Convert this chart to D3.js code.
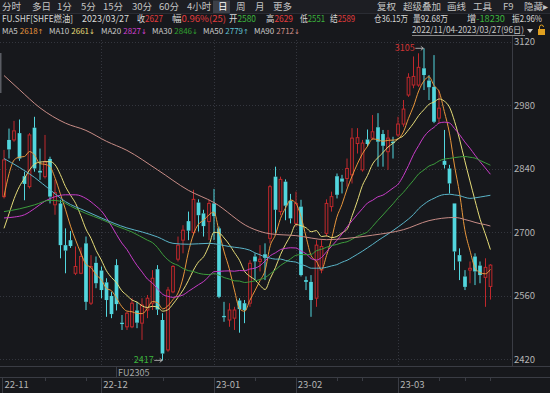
<!DOCTYPE html>
<html>
<head>
<meta charset="utf-8">
<script src="https://cdn.jsdelivr.net/npm/d3@7"></script>
<style>
  html, body { margin: 0; padding: 0; background: #17181c; }
  svg { display: block; }
  text { font-family: "Noto Sans CJK SC", "Noto Sans", sans-serif; }
</style>
</head>
<body>
<svg id="chart" width="550" height="393"></svg>
<script>
// trading days shown (2022/11/04 - 2023/03/27, 96 days)
var dates = ["11/04","11/07","11/08","11/09","11/10","11/11","11/14","11/15","11/16","11/17","11/18","11/21","11/22","11/23","11/24","11/25","11/28","11/29","11/30",
  "12/01","12/02","12/05","12/06","12/07","12/08","12/09","12/12","12/13","12/14","12/15","12/16","12/19","12/20","12/21","12/22","12/23","12/26","12/27","12/28","12/29","12/30",
  "01/03","01/04","01/05","01/06","01/09","01/10","01/11","01/12","01/13","01/16","01/17","01/18","01/19","01/20","01/30","01/31",
  "02/01","02/02","02/03","02/06","02/07","02/08","02/09","02/10","02/13","02/14","02/15","02/16","02/17","02/20","02/21","02/22","02/23","02/24","02/27","02/28",
  "03/01","03/02","03/03","03/06","03/07","03/08","03/09","03/10","03/13","03/14","03/15","03/16","03/17","03/20","03/21","03/22","03/23","03/24","03/27"];

var opens  = [2778,2903,2903,2918,2823,2800,2930,2835,2822,2861,2760,2763,2671,2682,2609,2609,2675,2543,2632,2615,
  2589,2559,2627,2500,2491,2491,2527,2499,2528,2543,2618,2506,2440,2568,2640,2682,2724,2699,2765,2741,
  2723,2763,2708,2515,2506,2510,2549,2543,2543,2646,2635,2651,2686,2822,2745,2811,2769,2719,2756,2594,
  2590,2554,2616,2697,2756,2823,2818,2818,2826,2895,2837,2904,2907,2931,2916,2877,2899,2914,2938,3002,
  3024,3024,3061,3034,3020,2951,2857,2840,2763,2649,2602,2616,2646,2626,2600,2580];
var highs  = [2881,2928,2945,2948,2833,2918,2954,2884,2914,2866,2815,2771,2708,2702,2668,2666,2690,2649,2646,2624,
  2598,2568,2640,2517,2524,2554,2546,2554,2561,2616,2627,2521,2579,2627,2690,2715,2745,2793,2772,2749,
  2771,2795,2712,2546,2543,2535,2554,2550,2638,2653,2671,2675,2804,2844,2822,2816,2784,2789,2771,2602,
  2605,2682,2682,2772,2789,2829,2826,2862,2929,2929,2903,2926,2958,2962,2925,2925,2910,2954,2991,3050,
  3087,3094,3105,3046,3090,3013,2925,2848,2763,2664,2616,2635,2653,2635,2642,2629];
var lows   = [2774,2862,2899,2857,2770,2796,2833,2815,2818,2763,2738,2642,2609,2665,2605,2607,2528,2539,2576,2554,
  2513,2510,2527,2484,2484,2488,2488,2462,2510,2528,2517,2417,2436,2565,2635,2653,2682,2693,2701,2690,
  2682,2682,2554,2502,2491,2484,2478,2499,2535,2594,2613,2594,2675,2697,2737,2726,2719,2712,2602,2572,
  2513,2535,2609,2690,2745,2774,2785,2800,2807,2873,2833,2888,2903,2844,2844,2837,2862,2910,2932,2998,
  3017,3020,3013,2991,2940,2940,2840,2785,2616,2594,2572,2587,2583,2587,2535,2551];
var closes = [2859,2882,2923,2862,2806,2914,2840,2831,2855,2778,2787,2671,2659,2669,2624,2646,2546,2624,2587,2572,
  2550,2519,2541,2497,2521,2543,2500,2539,2554,2598,2529,2432,2572,2624,2671,2704,2703,2772,2737,2713,
  2763,2735,2557,2512,2528,2528,2530,2528,2631,2635,2640,2643,2800,2749,2816,2758,2730,2763,2605,2590,
  2550,2671,2668,2763,2778,2782,2811,2840,2907,2908,2896,2894,2921,2899,2890,2907,2896,2938,2971,3041,
  3043,3063,3046,3019,2943,2973,2848,2807,2657,2635,2579,2620,2613,2605,2622,2627];

var maPeriods = [5, 10, 20, 30, 50, 90];
var ma5Head  = [[0,2778],[1,2829],[2,2859],[3,2865]];
var ma10Head = [[0,2708],[1,2741],[2,2774],[3,2800],[4,2818],[5,2837],[6,2850],[7,2854],[8,2855]];
var ma20Head = [[0,2731],[2,2733],[4,2738],[6,2752],[8,2768],[10,2778],[12,2782],[14,2782],[16,2774],[18,2757]];
var ma30Head = [[0,2745],[3,2751],[6,2760],[9,2770],[11,2768],[13,2757],[16,2741],[19,2728],[22,2713],[25,2700],[28,2682]];
var ma50Head = [[0,2862],[6,2820],[9,2793],[12,2767],[16,2746],[19,2731],[24,2709],[27,2700],[30,2689],[33,2675],[36,2673],[40,2675],[44,2668],[48,2660]];
var ma90Head = [[0,3045],[3,3014],[7,2974],[12,2940],[16,2924],[20,2900],[24,2880],[30,2837],[36,2792],[41,2765],[48,2710],[52,2696],[57,2692],[63,2683],[67,2686],[72,2693],[78,2705],[83,2725],[88,2732]];
var maHeads = [ma5Head, ma10Head, ma20Head, ma30Head, ma50Head, ma90Head];
var maNames = ["MA5","MA10","MA20","MA30","MA50","MA90"];
var maLast = ["2618","2661","2827","2846","2779","2712"];
var maArrow = ["↑","↓","↓","↓","↑","↓"];

var priceTicks = [3120, 2980, 2840, 2700, 2560, 2420];
var monthLabels = ["22-11","22-12","23-01","23-02","23-03"];
var monthStart = ["11/04","12/01","01/03","02/01","03/01"];
var minorTickDates = ["11/16","11/28","12/19","01/13","02/13","02/20","03/13","03/20","03/27"];

var toolbarLeft = ["分时","多日","1分","5分","15分","30分","60分","4小时","日","周","月","更多"];
var toolbarRight = ["复权","超级叠加","画线","工具","F9","隐藏▸"];
var quoteLabels = ["收","幅","开","高","低","结","仓","量","增","振"];
var quoteValues = ["2627","0.96%(25)","2580","2629","2551","2589","36.15万","92.68万","-18230","2.96%"];
var quoteSign   = [1, 1, -1, 1, -1, 1, 0, 0, -1, 0];

// colours / layout
var bg = "#17181c";
var upColor = "#c0282c", downColor = "#52d6de";
var maColors = ["#e8963c", "#e6dc78", "#c83cc8", "#3c9c3c", "#5ab4c8", "#c88c86"];
var maTextColors = ["#e8963c", "#e6dc78", "#d040d0", "#30a030", "#60c0d0", "#d09088"];
var signColor = function(s) { return s > 0 ? "#e03c3c" : (s < 0 ? "#3cb43c" : "#d8d8d8"); };
var plotRight = 512, plotTop = 36, plotBottom = 366;

var svg = d3.select("#chart");
svg.append("rect").attr("width", 550).attr("height", 393).attr("fill", bg);

var x = d3.scaleBand().domain(dates).range([1.44, 492.96]);
function xc(d) { return x(d) + x.bandwidth() / 2; }
var y = d3.scaleLinear().domain([2420, 3120]).range([359, 41.5]);

// ---- top toolbar ----
svg.append("rect").attr("width", 550).attr("height", 13).attr("fill", "#1d1e23");
svg.append("line").attr("x1", 0).attr("x2", 550).attr("y1", 13.5).attr("y2", 13.5).attr("stroke", "#2a2c33");
var toolLeftX = [2, 32, 57, 81, 103, 132, 159, 187, 218, 236, 255, 273];
var toolRightX = [377, 403, 447, 473, 503, 524];
svg.append("rect").attr("x", 213).attr("y", 0.5).attr("width", 17).attr("height", 12.5).attr("fill", "#3c3f48");
svg.selectAll(".tool").data(toolbarLeft.concat(toolbarRight)).join("text")
   .attr("x", function(d, i) { return i < toolbarLeft.length ? toolLeftX[i] : toolRightX[i - toolbarLeft.length]; })
   .attr("y", 10)
   .attr("font-size", 9.5)
   .attr("fill", function(d) { return d == "日" ? "#ffffff" : "#c4c4c4"; })
   .text(function(d) { return d; });

// ---- quote line ----
var row2 = svg.append("g").attr("font-size", 9).attr("fill", "#d8d8d8");
row2.append("text").attr("x", 2).attr("y", 21.5).attr("textLength", 71).attr("lengthAdjust", "spacingAndGlyphs")
    .text("FU.SHF[SHFE燃油]");
row2.append("text").attr("x", 82).attr("y", 21.5).attr("textLength", 47).attr("lengthAdjust", "spacingAndGlyphs")
    .text("2023/03/27");
var quoteX = [137, 172, 229, 266, 300, 330, 374, 413, 467, 512];
var quoteW = [26, 54, 27, 27, 25, 25, 34, 35, 38, 30];
quoteLabels.forEach(function(lab, i) {
  var t = row2.append("text").attr("x", quoteX[i]).attr("y", 21.5)
              .attr("textLength", quoteW[i]).attr("lengthAdjust", "spacingAndGlyphs");
  t.append("tspan").text(lab);
  t.append("tspan").attr("fill", signColor(quoteSign[i])).text(quoteValues[i]);
});

// ---- MA legend line ----
var maX = [2, 49, 101, 152, 203, 254];
maNames.forEach(function(name, i) {
  var lab = svg.append("text").attr("x", maX[i]).attr("y", 33.5).attr("font-size", 8).attr("fill", "#c8c8c8").text(name);
  var lw = lab.node().getComputedTextLength();
  var t = svg.append("text").attr("x", maX[i] + lw + 2).attr("y", 33.5).attr("font-size", 8).attr("fill", maTextColors[i]);
  t.append("tspan").text(maLast[i]);
  t.append("tspan").attr("font-family", "DejaVu Sans").attr("font-size", 7).text(maArrow[i]);
});
svg.append("text").attr("x", 412).attr("y", 33).attr("font-size", 8.5)
   .attr("textLength", 112).attr("lengthAdjust", "spacingAndGlyphs")
   .attr("fill", "#c8c8c8").text("2022/11/04-2023/03/27(" + dates.length + "日)");
svg.append("line").attr("x1", 412).attr("x2", 525).attr("y1", 35.5).attr("y2", 35.5).attr("stroke", "#a8a8a8").attr("stroke-width", 0.8);
svg.append("path").attr("d", "M527,29 h6 l-3,4 z").attr("fill", "#c8c8c8");
svg.append("rect").attr("x", 538).attr("y", 29).attr("width", 7).attr("height", 6).attr("fill", "#e0a020");
svg.append("path").attr("d", "M539.5,29 v-2 a2,2 0 0 1 4,0").attr("fill", "none").attr("stroke", "#e0a020");

// ---- grid ----
var grid = svg.append("g").attr("stroke", "#34363e").attr("stroke-dasharray", "1,2").attr("stroke-width", 1);
grid.selectAll(".hg").data(priceTicks).join("line")
    .attr("x1", 0).attr("x2", plotRight)
    .attr("y1", function(d) { return Math.round(y(d)) + 0.5; })
    .attr("y2", function(d) { return Math.round(y(d)) + 0.5; });
grid.selectAll(".vg").data(monthStart.slice(1)).join("line")
    .attr("x1", function(d) { return Math.round(xc(d)) + 0.5; })
    .attr("x2", function(d) { return Math.round(xc(d)) + 0.5; })
    .attr("y1", plotTop + 4).attr("y2", plotBottom);

// left edge scroll mark
svg.append("rect").attr("x", 0).attr("y", 53).attr("width", 1.5).attr("height", 40).attr("fill", "#5a5c63");

// ---- price axis ----
svg.append("line").attr("x1", plotRight + 0.5).attr("x2", plotRight + 0.5).attr("y1", plotTop).attr("y2", plotBottom)
   .attr("stroke", "#3a3c44");
var yAxis = svg.append("g").attr("transform", "translate(" + plotRight + ",0)")
   .call(d3.axisRight(y).tickValues(priceTicks).tickFormat(d3.format("d")).tickSize(0).tickPadding(2));
yAxis.select(".domain").remove();
yAxis.selectAll("text").attr("fill", "#b4b4b4").attr("font-size", 9.5)
     .attr("font-family", "\"Noto Sans CJK SC\", sans-serif");

// ---- plot area ----
svg.append("clipPath").attr("id", "plotClip").append("rect")
   .attr("x", 0).attr("y", plotTop).attr("width", plotRight).attr("height", plotBottom - plotTop);
var plot = svg.append("g").attr("clip-path", "url(#plotClip)");

var bw = 3.7;
var candle = plot.selectAll(".candle").data(dates).join("g");
candle.each(function(d, i) {
  var g = d3.select(this);
  var up = closes[i] >= opens[i];
  var col = up ? upColor : downColor;
  var cx = Math.round(xc(d) * 2) / 2;
  var yTop = y(Math.max(opens[i], closes[i]));
  var yBot = y(Math.min(opens[i], closes[i]));
  g.append("line").attr("x1", cx).attr("x2", cx).attr("y1", y(highs[i])).attr("y2", yTop).attr("stroke", col);
  g.append("line").attr("x1", cx).attr("x2", cx).attr("y1", yBot).attr("y2", y(lows[i])).attr("stroke", col);
  if (up) {
    g.append("rect").attr("x", cx - bw / 2 + 0.5).attr("y", yTop)
     .attr("width", bw - 1).attr("height", Math.max(1, yBot - yTop))
     .attr("fill", bg).attr("stroke", col).attr("stroke-width", 1);
  } else {
    g.append("rect").attr("x", cx - bw / 2).attr("y", yTop)
     .attr("width", bw).attr("height", Math.max(1, yBot - yTop))
     .attr("fill", col);
  }
});

// moving average lines
var maLine = d3.line()
  .x(function(p) { return xc(dates[p[0]]); })
  .y(function(p) { return y(p[1]); })
  .curve(d3.curveMonotoneX);
maPeriods.forEach(function(n, k) {
  var pts = maHeads[k].slice();
  for (var i = n - 1; i < closes.length; i++) {
    pts.push([i, d3.mean(closes.slice(i - n + 1, i + 1))]);
  }
  plot.append("path").datum(pts)
      .attr("d", maLine)
      .attr("fill", "none")
      .attr("stroke", maColors[k])
      .attr("stroke-width", 1);
});

// high / low markers
var hiIdx = d3.maxIndex(highs), loIdx = d3.minIndex(lows);
function marker(idx, val, col) {
  var mx = xc(dates[idx]), my = y(val);
  var g = svg.append("g");
  g.append("text").attr("x", mx - 9).attr("y", my + 3).attr("text-anchor", "end")
   .attr("font-size", 9).attr("fill", col).text(val);
  g.append("line").attr("x1", mx - 8.5).attr("x2", mx - 0.5).attr("y1", my).attr("y2", my)
   .attr("stroke", "#c8c8c8").attr("stroke-width", 0.8);
  g.append("path").attr("d", "M" + (mx - 3) + "," + (my - 2) + " L" + (mx - 0.5) + "," + my + " L" + (mx - 3) + "," + (my + 2))
   .attr("fill", "none").attr("stroke", "#c8c8c8").attr("stroke-width", 0.8);
}
marker(hiIdx, highs[hiIdx], "#d03434");
marker(loIdx, lows[loIdx], "#3cb43c");

// ---- bottom: contract label and date axis ----
svg.append("line").attr("x1", 0).attr("x2", 550).attr("y1", plotBottom + 0.5).attr("y2", plotBottom + 0.5).attr("stroke", "#3a3c44");
svg.append("line").attr("x1", 116.5).attr("x2", 116.5).attr("y1", plotBottom).attr("y2", 377).attr("stroke", "#3a3c44");
svg.append("text").attr("x", 118).attr("y", 375.5).attr("font-size", 9).attr("fill", "#a8a8a8").text("FU2305");
svg.append("line").attr("x1", 0).attr("x2", 550).attr("y1", 377.5).attr("y2", 377.5).attr("stroke", "#3a3c44");

var xAxis = svg.append("g");
xAxis.selectAll(".mt").data(monthStart).join("line")
   .attr("x1", function(d, i) { return i == 0 ? 2.5 : Math.round(xc(d)) + 0.5; })
   .attr("x2", function(d, i) { return i == 0 ? 2.5 : Math.round(xc(d)) + 0.5; })
   .attr("y1", 377).attr("y2", 393).attr("stroke", "#3a3c44");
xAxis.selectAll(".mn").data(minorTickDates).join("line")
   .attr("x1", function(d) { return Math.round(xc(d)) + 0.5; })
   .attr("x2", function(d) { return Math.round(xc(d)) + 0.5; })
   .attr("y1", 377).attr("y2", 381).attr("stroke", "#3a3c44");
xAxis.selectAll(".ml").data(monthLabels).join("text")
   .attr("x", function(d, i) { return (i == 0 ? 2.5 : xc(monthStart[i])) + 2; })
   .attr("y", 388)
   .attr("font-size", 9.5).attr("fill", "#b4b4b4")
   .text(function(d) { return d; });
</script>
</body>
</html>
